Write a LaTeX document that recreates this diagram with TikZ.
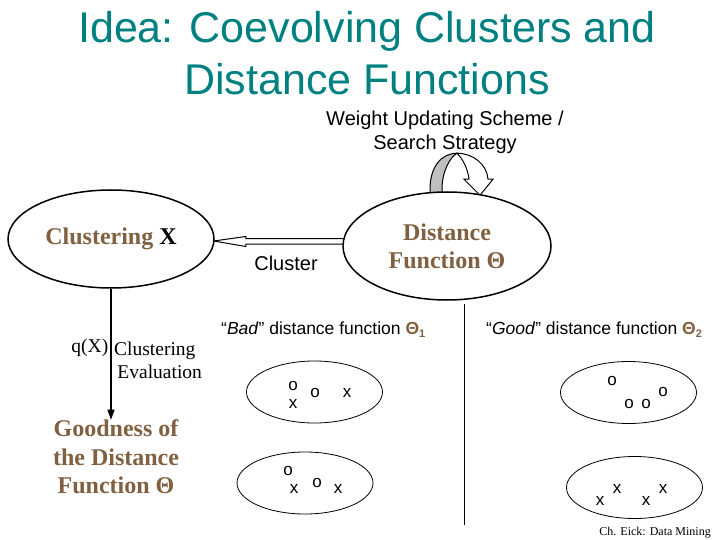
\documentclass[tikz,border=0pt]{standalone}
\usepackage{fontspec}
\setmainfont{Liberation Sans}
\newfontfamily\serifont{Liberation Serif}
\usetikzlibrary{shapes.geometric,arrows.meta,calc}
\definecolor{tealc}{RGB}{0,128,128}
\definecolor{brn}{RGB}{128,96,64}
\definecolor{lgray}{RGB}{192,192,192}
\pgfdeclarelayer{bg}
\pgfsetlayers{bg,main}
\begin{document}
\begin{tikzpicture}[x=1pt,y=-1pt,
  bigell/.style={ellipse,draw,line width=1.5pt,fill=white,inner sep=0pt,align=center,
    font=\serifont\bfseries\fontsize{24}{28}\selectfont},
  smallell/.style={ellipse,draw,line width=0.8pt,minimum width=136pt,minimum height=62pt,inner sep=0pt},
  ptl/.style={font=\fontsize{17}{17}\selectfont,inner sep=0pt},
  titletext/.style={font=\fontsize{43}{52}\selectfont,text=tealc,inner sep=0pt,anchor=base},
  sanslabel/.style={font=\fontsize{20}{24}\selectfont,inner sep=0pt,align=center},
  fnlabel/.style={font=\fontsize{17.5}{20}\selectfont,inner sep=0pt,anchor=west},
  serlabel/.style={font=\serifont\fontsize{19.5}{23}\selectfont,inner sep=0pt},
  hollow/.style={line width=1pt,fill=white},
]
\useasboundingbox (0,0) rectangle (720,540);

% title
\node[titletext] (t1) at (367,43) {Idea: Coevolving Clusters and};
\node[titletext] (t2) at (367,95) {Distance Functions};

\node[sanslabel] (ws) at (445,132) {Weight Updating Scheme /\\Search Strategy};

% main ellipses
\node[bigell,minimum width=206pt,minimum height=98pt] (L) at (111,239)
  {{\color{brn}Clustering} X};
\node[bigell,minimum width=208pt,minimum height=108pt,text=brn] (R) at (447,246)
  {Distance\\Function Θ};

\begin{pgfonlayer}{bg}
  % hollow arrow R -> L
  \coordinate (tip) at ($(L.east)+(-1,2)$);
  \draw[hollow] (tip) -- ++(32,-4.5) -- ++(0,2) -- ++(110,0) -- ++(0,5.5)
     -- ++(-110,0) -- ++(0,2.5) -- cycle;
  % curved self arrow on top of R
  \coordinate (ca) at ($(R.north)+(-17,6)$);
  \draw[line width=1pt,fill=lgray] (ca) -- ++(0,-8)
     .. controls +(0,-22) and +(-16,0) .. ++(27,-36)
     .. controls +(-7,4) and +(0,-18) .. ++(-15,36) -- ++(0,8) -- cycle;
  \coordinate (cb) at ($(R.north)+(10,-38)$);
  \draw[line width=1pt,fill=white] (cb)
     .. controls +(16,0) and +(-1,-15) .. ++(31,26)
     -- ++(5,0) -- ++(-13,16) -- ++(-16,-16) -- ++(5,0)
     .. controls +(-1,-10) and +(6,6) .. (cb) -- cycle;
\end{pgfonlayer}

\node[sanslabel] (cl) at (286,263) {Cluster};

% evaluation arrow
\node[font=\serifont\bfseries\fontsize{24}{28.5}\selectfont,text=brn,align=center,inner sep=0pt]
  (G) at (116,457) {Goodness of\\the Distance\\Function Θ};
\draw[line width=1.2pt,-{Triangle[length=10pt,width=7pt]}] (L.south) -- (L.south |- G.north);
\node[serlabel,anchor=east] (q) at (108.5,348) {q(X)};
\node[serlabel,anchor=west,align=left] (ce) at (114,360) {Clustering\\ \,Evaluation};

% separator
\coordinate (s1) at (464,304);
\coordinate (s2) at (464,525);
\draw[line width=1pt] (s1) -- (s2);

% labels
\node[fnlabel] (bad) at (221,330) {“\textit{Bad}” distance function {\color{brn}\bfseries Θ\raisebox{-3pt}{\fontsize{11}{11}\selectfont 1}}};
\node[fnlabel] (good) at (486,330) {“\textit{Good}” distance function {\color{brn}\bfseries Θ\raisebox{-3pt}{\fontsize{11}{11}\selectfont 2}}};

% small ellipses
\node[smallell] (b1) at (314.5,392) {};
\node[smallell] (b2) at (305,483) {};
\node[smallell] (g1) at (628.5,392.5) {};
\node[smallell] (g2) at (634.5,487.5) {};

% points
\node[ptl] (p1) at (293,386) {o};
\node[ptl] (p2) at (293,404) {x};
\node[ptl] (p3) at (315,393) {o};
\node[ptl] (p4) at (347,393) {x};

\node[ptl] (p5) at (288,471) {o};
\node[ptl] (p6) at (294,489) {x};
\node[ptl] (p7) at (317,483) {o};
\node[ptl] (p8) at (338,489) {x};

\node[ptl] (p9) at (612,381) {o};
\node[ptl] (p10) at (663,392) {o};
\node[ptl] (p11) at (629,404) {o};
\node[ptl] (p12) at (646,404) {o};

\node[ptl] (p13) at (600,501) {x};
\node[ptl] (p14) at (617,489) {x};
\node[ptl] (p15) at (646,501) {x};
\node[ptl] (p16) at (663,489) {x};

\node[font=\serifont\fontsize{12}{14}\selectfont,anchor=east,inner sep=0pt] (ft) at (711,533) {Ch. Eick: Data Mining};
\end{tikzpicture}
\end{document}
